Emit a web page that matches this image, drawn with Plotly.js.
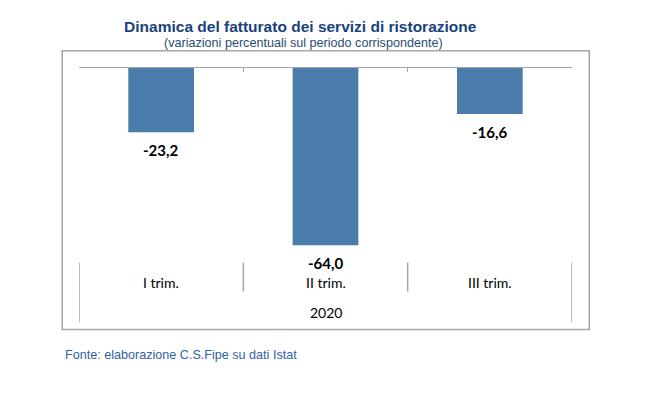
<!DOCTYPE html>
<html>
<head>
<meta charset="utf-8">
<script src="https://cdn.plot.ly/plotly-3.0.1.min.js"></script>
<style>html,body{margin:0;padding:0;background:#fff;}</style>
</head>
<body>
<div id="chart" style="width:657px;height:393px;"></div>
<script>
var categories = ['I trim.', 'II trim.', 'III trim.'];
var values = [-23.2, -64.0, -16.6];
var yearLabel = '2020';
var titleText = 'Dinamica del fatturato dei servizi di ristorazione';
var subtitleText = '(variazioni percentuali sul periodo corrispondente)';
var sourceText = 'Fonte: elaborazione C.S.Fipe su dati Istat';

var gray = '#A6A6A6';
var labelFont = {family: 'Lato, Carlito, sans-serif', size: 14, color: '#000'};

var annotations = [];
categories.forEach(function (c, i) {
  annotations.push({
    x: c, y: values[i], xref: 'x', yref: 'y',
    text: '<b>' + values[i].toFixed(1).replace('.', ',') + '</b>',
    showarrow: false, yanchor: 'middle', yshift: -18,
    font: {family: 'Lato, Carlito, sans-serif', size: 15, color: '#000'}
  });
  annotations.push({
    x: c, y: -0.106, xref: 'x', yref: 'paper',
    text: c, showarrow: false, yanchor: 'middle', font: labelFont
  });
});
annotations.push({
  x: 1, y: -0.26, xref: 'x', yref: 'paper', text: yearLabel,
  showarrow: false, yanchor: 'middle', font: labelFont
});
annotations.push({
  x: 0.455, y: 1.1286, xref: 'paper', yref: 'paper', text: subtitleText,
  showarrow: false, yanchor: 'middle', xanchor: 'center',
  font: {family: 'Liberation Sans, Arial, sans-serif', size: 12.6, color: '#2C4C74'}
});
annotations.push({
  x: -0.033, y: -0.4815, xref: 'paper', yref: 'paper', text: sourceText,
  showarrow: false, yanchor: 'middle', xanchor: 'left',
  font: {family: 'Liberation Sans, Arial, sans-serif', size: 12.6, color: '#2F62A0'}
});

var shapes = [
  // outer frame
  {type: 'rect', xref: 'paper', yref: 'paper', x0: -0.034, x1: 1.035, y0: -0.348, y1: 1.089,
   line: {color: gray, width: 1.5}, fillcolor: 'rgba(0,0,0,0)'}
];
// separators between category labels
[-0.5, 0.5, 1.5, 2.5].forEach(function (b, i) {
  var outer = (i === 0 || i === 3);
  shapes.push({type: 'line', xref: 'x', yref: 'paper', x0: b, x1: b,
    y0: -0.003, y1: outer ? -0.31 : -0.152, line: {color: gray, width: 1.5}});
});

var trace = {
  type: 'bar', x: categories, y: values,
  marker: {color: '#4A7DAB', line: {width: 0}},
  hoverinfo: 'skip'
};

var layout = {
  width: 657, height: 393,
  margin: {l: 79, r: 85, t: 68, b: 130.6, pad: 0},
  paper_bgcolor: '#fff', plot_bgcolor: '#fff',
  separators: ',.',
  bargap: 0.6,
  showlegend: false,
  title: {
    text: '<b>' + titleText + '</b>',
    x: 0.457, xref: 'container', xanchor: 'center',
    y: 0.932, yref: 'container', yanchor: 'middle',
    font: {family: 'Liberation Sans, Arial, sans-serif', size: 15.5, color: '#17427C'}
  },
  xaxis: {
    type: 'category', side: 'top', range: [-0.5, 2.5],
    showline: true, linecolor: gray, linewidth: 1.5,
    ticks: 'inside', tickson: 'boundaries', ticklen: 4, tickcolor: gray, tickwidth: 1.5,
    showticklabels: false, showgrid: false, zeroline: false, fixedrange: true
  },
  yaxis: {
    range: [-70, 0], visible: false, showgrid: false, zeroline: false, fixedrange: true
  },
  annotations: annotations,
  shapes: shapes
};

Plotly.newPlot('chart', [trace], layout, {displayModeBar: false, staticPlot: true});
</script>
</body>
</html>
